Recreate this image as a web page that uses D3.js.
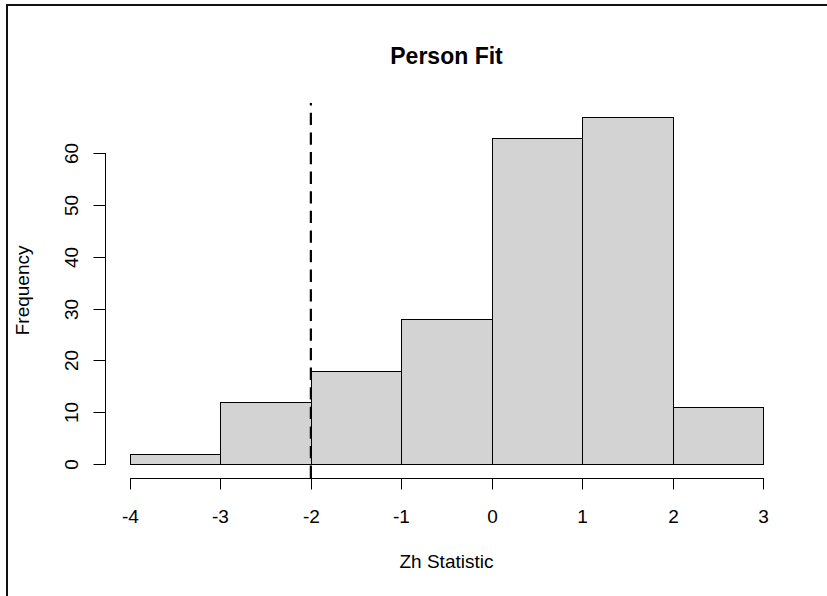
<!DOCTYPE html>
<html>
<head>
<meta charset="utf-8">
<script src="https://cdn.jsdelivr.net/npm/d3@7"></script>
<style>
  body { margin: 0; background: #fff; }
  svg { display: block; }
  svg text { font-family: 'Liberation Sans', Arial, sans-serif; }
</style>
</head>
<body>
<div id="chart"></div>
<script>
// histogram bins (Zh statistic) and counts
const binEdges = [-4, -3, -2, -1, 0, 1, 2, 3]
const counts = [2, 12, 18, 28, 63, 67, 11]
const xTicks = [-4, -3, -2, -1, 0, 1, 2, 3]
const yTicks = [0, 10, 20, 30, 40, 50, 60]
const cutoff = -2

const width = 827
const height = 596
const font = "'Liberation Sans', Arial, sans-serif"

const svg = d3.select('#chart')
  .append('svg')
  .attr('width', width)
  .attr('height', height)

// figure border (only top / left visible, rest is cropped)
svg.append('rect')
  .attr('x', 7)
  .attr('y', 5)
  .attr('width', 900)
  .attr('height', 700)
  .attr('fill', 'none')
  .attr('stroke', '#111')
  .attr('stroke-width', 2)

// R style 4% extension around data range
const x = d3.scaleLinear().domain([-4.28, 3.28]).range([104.7, 788.3])
const y = d3.scaleLinear().domain([-2.68, 69.68]).range([477.9, 102.9])

const bins = counts.map((c, i) => ({ x0: binEdges[i], x1: binEdges[i + 1], n: c }))

svg.append('g')
  .selectAll('rect')
  .data(bins)
  .join('rect')
  .attr('x', d => Math.round(x(d.x0)) + 0.5)
  .attr('y', d => Math.round(y(d.n)) + 0.5)
  .attr('width', d => Math.round(x(d.x1)) - Math.round(x(d.x0)))
  .attr('height', d => Math.round(y(0)) - Math.round(y(d.n)))
  .attr('fill', '#d3d3d3')
  .attr('stroke', '#000')
  .attr('stroke-width', 1)

// x axis
const xAxis = svg.append('g')
  .attr('transform', `translate(0,${Math.round(y.range()[0]) + 0.5})`)
  .call(d3.axisBottom(x).tickValues(xTicks).tickSize(11).tickSizeOuter(0))
xAxis.select('.domain').remove()
xAxis.append('line')
  .attr('x1', Math.round(x(xTicks[0])))
  .attr('x2', Math.round(x(xTicks[xTicks.length - 1])) + 1)
  .attr('stroke', '#000')
xAxis.selectAll('.tick line').attr('stroke', '#000')
xAxis.selectAll('.tick').attr('transform', d => `translate(${Math.round(x(d)) + 0.5},0)`)
xAxis.selectAll('.tick text')
  .attr('y', 44)
  .attr('dy', 0)
  .attr('fill', '#000')
  .style('font-family', font)
  .style('font-size', '19px')
  .text(d => d < 0 ? '-' + Math.abs(d) : d)

// y axis
const yAxis = svg.append('g')
  .attr('transform', `translate(${Math.round(x.range()[0]) + 0.5},0)`)
  .call(d3.axisLeft(y).tickValues(yTicks).tickSize(12).tickSizeOuter(0))
yAxis.select('.domain').remove()
yAxis.append('line')
  .attr('y1', Math.round(y(yTicks[0])) + 1)
  .attr('y2', Math.round(y(yTicks[yTicks.length - 1])))
  .attr('stroke', '#000')
yAxis.selectAll('.tick line').attr('stroke', '#000')
yAxis.selectAll('.tick').attr('transform', d => `translate(0,${Math.round(y(d)) + 0.5})`)
yAxis.selectAll('.tick text')
  .attr('x', 0)
  .attr('dy', 0)
  .attr('transform', 'translate(-28,0) rotate(-90)')
  .attr('text-anchor', 'middle')
  .attr('fill', '#000')
  .style('font-family', font)
  .style('font-size', '19px')

// cutoff line
svg.append('line')
  .attr('x1', x(cutoff))
  .attr('x2', x(cutoff))
  .attr('y1', y.range()[0])
  .attr('y2', y.range()[1])
  .attr('stroke', '#000')
  .attr('stroke-width', 2.2)
  .attr('stroke-dasharray', '12.3,7.3')

const cx = (x.range()[0] + x.range()[1]) / 2

svg.append('text')
  .attr('x', cx)
  .attr('y', 63.5)
  .attr('text-anchor', 'middle')
  .style('font-size', '23px')
  .style('font-weight', 'bold')
  .text('Person Fit')

svg.append('text')
  .attr('x', cx)
  .attr('y', 568)
  .attr('text-anchor', 'middle')
  .style('font-size', '19px')
  .text('Zh Statistic')

svg.append('text')
  .attr('transform', `translate(28.5,${(y.range()[0] + y.range()[1]) / 2}) rotate(-90)`)
  .attr('text-anchor', 'middle')
  .style('font-size', '19px')
  .text('Frequency')
</script>
</body>
</html>
